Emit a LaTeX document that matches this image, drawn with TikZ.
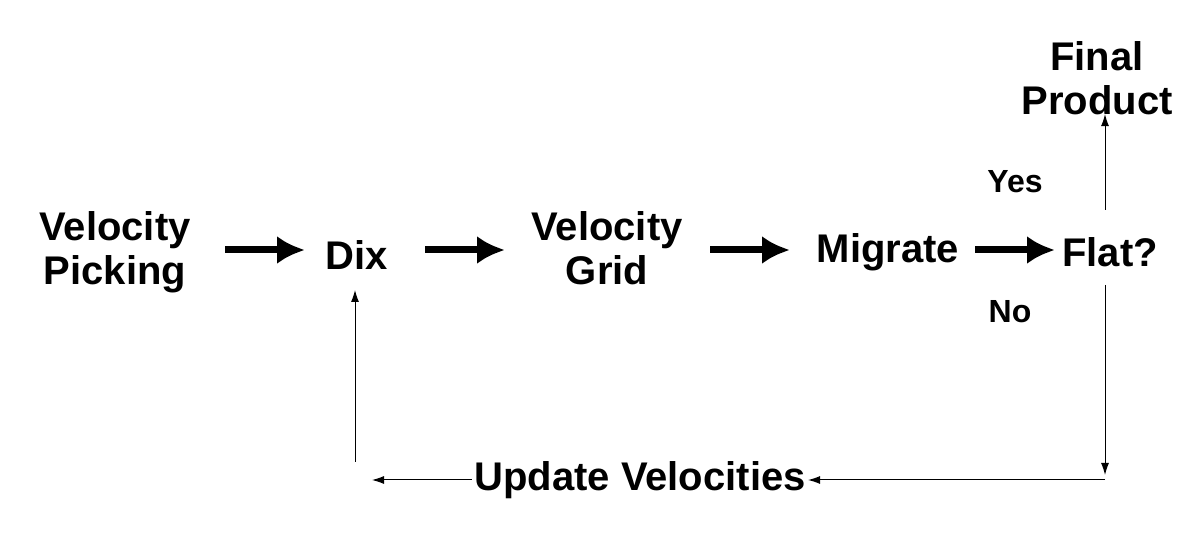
\documentclass[tikz,border=0pt]{standalone}
\usepackage{fontspec}
\setmainfont{Liberation Sans}
\usetikzlibrary{arrows.meta,calc}
\tikzset{
	lbl/.style={font=\bfseries\fontsize{20}{22}\selectfont, align=center, inner sep=1pt},
	small/.style={font=\bfseries\fontsize{16}{18}\selectfont, inner sep=1pt},
	thick arrow/.style={line width=3.5pt, -{Latex[length=14pt,width=14pt]}},
	thin arrow/.style={line width=0.5pt, -{Latex[length=6pt,width=4pt]}}
}
\begin{document}
\begin{tikzpicture}[x=0.5pt,y=-0.5pt]
	\useasboundingbox (0,0) rectangle (1200,550);
	\node[lbl] (pick) at (115,252) {Velocity\\Picking};
	\node[lbl] (dix) at (357,255) {Dix};
	\node[lbl] (grid) at (607,248) {Velocity\\Grid};
	\node[lbl] (mig) at (888,252) {Migrate};
	\node[lbl] (flat) at (1110,252) {Flat?};
	\node[lbl] (final) at (1097,78) {Final\\Product};
	\node[lbl] (upd) at (640,480) {Update Velocities};
	\node[small] (yes) at (1015,182) {Yes};
	\node[small] (no) at (1010,312) {No};
	
	\coordinate (corner) at (1105,480);
	\coordinate (back) at (372,480);
	\coordinate (up) at (355,462);
	
	\draw[thick arrow] (225,250) -- (305,250);
	\draw[thick arrow] (425,250) -- (505,250);
	\draw[thick arrow] (710,250) -- (790,250);
	\draw[thick arrow] (975,250) -- (1055,250);
	
	\draw[thin arrow] (1105,210) -- ($(final.south -| corner)+(0,-3)$);
	\draw[thin arrow] (1105,285) -- ($(corner)+(0,-5)$);
	\draw[thin arrow] (corner) -- (upd.east);
	\draw[thin arrow] (upd.west) -- (back);
	\draw[thin arrow] (up) -- (355,290);
\end{tikzpicture}
\end{document}
